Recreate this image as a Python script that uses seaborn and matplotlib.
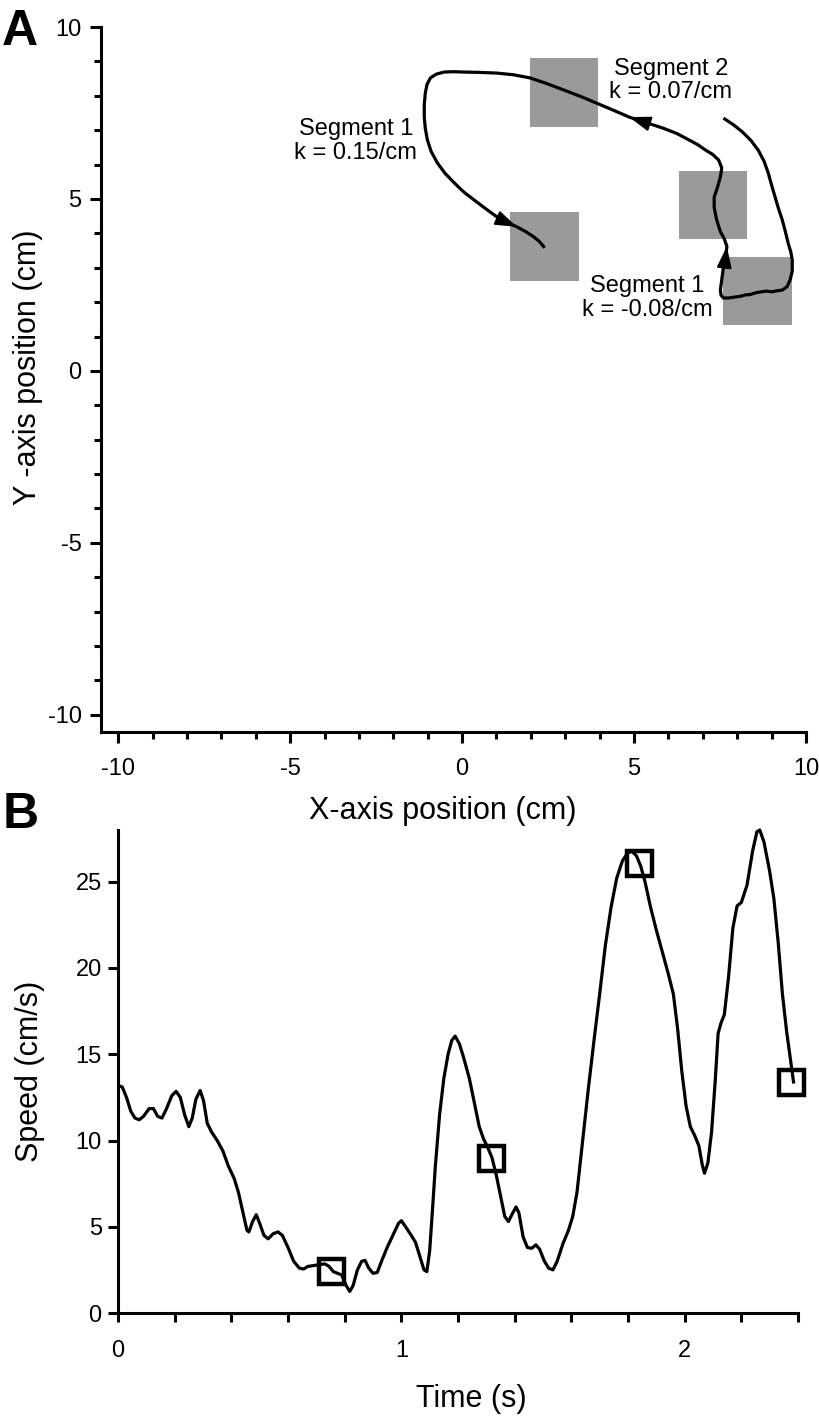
import numpy as np
import matplotlib
matplotlib.use("Agg")
import matplotlib.pyplot as plt
from matplotlib.patches import Rectangle
from matplotlib.ticker import MultipleLocator
import seaborn as sns

# Panel A: hand trajectory (cm)
PATH_X = [7.60, 7.90, 8.15, 8.40, 8.61, 8.78, 8.90, 9.00, 9.10, 9.20, 9.31, 9.40,
          9.48, 9.56, 9.60, 9.60, 9.54, 9.45, 9.31, 9.15, 9.02, 8.85, 8.70, 8.53,
          8.38, 8.24, 8.10, 7.95, 7.75, 7.60, 7.53, 7.51, 7.55, 7.60, 7.66, 7.70,
          7.62, 7.51, 7.40, 7.33, 7.33, 7.43, 7.51, 7.55, 7.46, 7.28, 7.08, 6.85,
          6.59, 6.25, 5.84, 5.35, 4.86, 4.40, 3.90, 3.45, 2.95, 2.45, 1.97, 1.50,
          1.01, 0.50, 0.06, -0.25, -0.52, -0.75, -0.92, -1.02, -1.07, -1.10, -1.10,
          -1.07, -1.01, -0.90, -0.72, -0.50, -0.23, 0.05, 0.35, 0.68, 1.01, 1.30,
          1.59, 1.85, 2.08, 2.25, 2.40]
PATH_Y = [7.35, 7.15, 6.95, 6.70, 6.42, 6.10, 5.76, 5.40, 5.06, 4.72, 4.39, 4.05,
          3.72, 3.45, 3.23, 2.90, 2.65, 2.45, 2.35, 2.33, 2.30, 2.32, 2.30, 2.27,
          2.22, 2.21, 2.17, 2.15, 2.12, 2.12, 2.20, 2.35, 2.65, 3.02, 3.30, 3.62,
          3.85, 4.05, 4.40, 4.75, 5.05, 5.35, 5.64, 5.90, 6.13, 6.30, 6.42, 6.58,
          6.72, 6.90, 7.06, 7.22, 7.38, 7.58, 7.79, 7.98, 8.17, 8.36, 8.52, 8.61,
          8.66, 8.68, 8.69, 8.70, 8.69, 8.63, 8.52, 8.33, 8.08, 7.75, 7.38,
          7.05, 6.72, 6.38, 6.05, 5.75, 5.47, 5.20, 4.97, 4.72, 4.48, 4.32,
          4.19, 4.05, 3.90, 3.76, 3.58]
ARROW_TIPS = [(7.70, 3.62), (4.86, 7.38), (1.59, 4.19)]

# target squares (centres, cm)
SQUARE_X = [2.965, 2.385, 7.295, 8.60]
SQUARE_Y = [8.095, 3.62, 4.825, 2.325]

LABEL_TEXT = ["Segment 2\nk = 0.07/cm", "Segment 1\nk = 0.15/cm", "Segment 1\nk = -0.08/cm"]
LABEL_X = [6.07, -3.09, 5.38]
LABEL_Y = [8.44, 6.69, 2.11]

# Panel B: speed profile
TIME = [0.000, 0.015, 0.030, 0.045, 0.060, 0.075, 0.090, 0.110, 0.125, 0.140,
        0.155, 0.170, 0.190, 0.205, 0.220, 0.235, 0.250, 0.262, 0.275, 0.290,
        0.302, 0.315, 0.330, 0.350, 0.370, 0.390, 0.410, 0.425, 0.440, 0.455,
        0.462, 0.475, 0.488, 0.500, 0.515, 0.530, 0.548, 0.565, 0.580, 0.600,
        0.620, 0.640, 0.655, 0.670, 0.690, 0.710, 0.730, 0.745, 0.760, 0.775,
        0.790, 0.805, 0.818, 0.830, 0.845, 0.860, 0.872, 0.885, 0.900, 0.915,
        0.930, 0.950, 0.970, 0.990, 1.000, 1.015, 1.035, 1.050, 1.065, 1.080,
        1.090, 1.100, 1.110, 1.120, 1.135, 1.150, 1.165, 1.178, 1.190, 1.205,
        1.220, 1.240, 1.260, 1.275, 1.290, 1.305, 1.320, 1.335, 1.350, 1.365,
        1.378, 1.390, 1.405, 1.415, 1.430, 1.445, 1.460, 1.475, 1.488, 1.505,
        1.520, 1.535, 1.550, 1.570, 1.590, 1.605, 1.620, 1.640, 1.660, 1.680,
        1.700, 1.720, 1.740, 1.760, 1.780, 1.800, 1.815, 1.830, 1.845, 1.860,
        1.880, 1.900, 1.920, 1.940, 1.960, 1.975, 1.990, 2.005, 2.020, 2.035,
        2.050, 2.062, 2.070, 2.082, 2.095, 2.108, 2.118, 2.128, 2.140, 2.155,
        2.170, 2.185, 2.200, 2.220, 2.240, 2.255, 2.265, 2.280, 2.300, 2.315,
        2.330, 2.345, 2.360, 2.375, 2.385]
SPEED = [13.2, 13.1, 12.5, 11.7, 11.3, 11.2, 11.4, 11.85, 11.85, 11.4,
         11.3, 11.8, 12.6, 12.85, 12.5, 11.5, 10.8, 11.3, 12.4, 12.9,
         12.3, 11.0, 10.5, 10.0, 9.4, 8.5, 7.8, 7.0, 5.9, 4.8,
         4.7, 5.3, 5.7, 5.2, 4.5, 4.3, 4.6, 4.7, 4.5, 3.8,
         3.0, 2.6, 2.55, 2.7, 2.75, 2.8, 2.85, 2.7, 2.4, 2.3,
         2.2, 1.6, 1.25, 1.6, 2.5, 3.0, 3.05, 2.6, 2.3, 2.35,
         3.0, 3.8, 4.5, 5.2, 5.35, 5.0, 4.5, 4.1, 3.3, 2.5,
         2.4, 3.6, 6.0, 8.5, 11.5, 13.6, 15.0, 15.8, 16.05, 15.6,
         14.8, 13.6, 12.0, 10.8, 10.1, 9.6, 9.0, 8.0, 6.8, 5.6,
         5.3, 5.7, 6.15, 5.8, 4.4, 3.8, 3.75, 3.95, 3.7, 3.0,
         2.6, 2.5, 3.0, 4.0, 4.8, 5.6, 7.0, 10.0, 13.0, 15.8,
         18.5, 21.3, 23.5, 25.2, 26.2, 26.7, 26.75, 26.5, 25.9, 25.0,
         23.5, 22.2, 21.0, 19.8, 18.5, 16.5, 14.0, 12.0, 10.8, 10.3,
         9.7, 8.6, 8.1, 8.7, 10.5, 13.5, 16.2, 16.8, 17.3, 19.5,
         22.3, 23.6, 23.8, 24.8, 26.8, 27.9, 28.0, 27.3, 25.6, 24.0,
         21.5, 18.5, 16.3, 14.5, 13.3]
MARK_T = [0.75, 1.315, 1.84, 2.375]
MARK_V = [2.45, 9.0, 26.1, 13.4]

sns.set_style("ticks")
plt.rcParams["font.family"] = ["Liberation Sans", "DejaVu Sans"]
plt.rcParams.update({
    "axes.linewidth": 2.2,
    "axes.edgecolor": "black",
    "axes.labelcolor": "black",
    "text.color": "black",
    "xtick.color": "black",
    "ytick.color": "black",
    "axes.unicode_minus": False,
    "lines.solid_joinstyle": "round",
    "lines.solid_capstyle": "butt",
})

W, H = 819, 1418
fig = plt.figure(figsize=(W / 100, H / 100), dpi=100)

# ---------- Panel A ----------
axA = fig.add_axes([101 / W, 1 - 732 / H, 705 / W, 705 / H])
for cx, cy in zip(SQUARE_X, SQUARE_Y):
    axA.add_patch(Rectangle((cx - 1.0, cy - 1.0), 2.0, 2.0, facecolor="#9a9a9a",
                            edgecolor="none", zorder=1))
sns.lineplot(x=PATH_X, y=PATH_Y, sort=False, estimator=None, color="black",
             linewidth=2.3, ax=axA, zorder=3)
pts = np.column_stack([PATH_X, PATH_Y])
for tip in ARROW_TIPS:
    i = int(np.argmin(np.hypot(pts[:, 0] - tip[0], pts[:, 1] - tip[1])))
    axA.annotate("", xy=pts[i], xytext=pts[i - 1], zorder=4,
                 arrowprops=dict(arrowstyle="-|>,head_length=1.3,head_width=0.45",
                                 color="black", lw=1.5, shrinkA=0, shrinkB=0))
for txt, tx, ty in zip(LABEL_TEXT, LABEL_X, LABEL_Y):
    axA.text(tx, ty, txt, ha="center", va="center", fontsize=17, linespacing=1.1)

axA.set_xlim(-10.5, 10)
axA.set_ylim(-10.5, 10)
axA.xaxis.set_minor_locator(MultipleLocator(1))
axA.yaxis.set_minor_locator(MultipleLocator(1))
axA.set_xticks([-10, -5, 0, 5, 10])
axA.set_yticks([-10, -5, 0, 5, 10])
axA.tick_params(axis="both", which="major", length=8, width=2.2, labelsize=17)
axA.tick_params(axis="both", which="minor", length=5, width=2.2)
axA.tick_params(axis="x", which="major", pad=11)
axA.tick_params(axis="y", which="major", pad=6)
sns.despine(ax=axA)
axA.set_xlabel("X-axis position (cm)", fontsize=22)
axA.set_ylabel("Y -axis position (cm)", fontsize=22)
axA.xaxis.set_label_coords(0.485, -0.091)
axA.yaxis.set_label_coords(-0.082, 0.517)

# ---------- Panel B ----------
axB = fig.add_axes([118 / W, 1 - 1313 / H, 680 / W, 483 / H])
sns.lineplot(x=TIME, y=SPEED, sort=False, estimator=None, color="black",
             linewidth=2.3, ax=axB, zorder=3, clip_on=False)
axB.plot(MARK_T, MARK_V, ls="none", marker="s", markersize=18,
         markerfacecolor="none", markeredgecolor="black", markeredgewidth=3.2,
         zorder=4, clip_on=False)
axB.set_xlim(0, 2.4)
axB.set_ylim(0, 28)
axB.set_xticks([0, 1, 2])
axB.xaxis.set_minor_locator(MultipleLocator(0.2))
axB.set_yticks([0, 5, 10, 15, 20, 25])
axB.tick_params(axis="both", which="both", width=2.2, labelsize=17)
axB.tick_params(axis="x", which="both", length=6.5, pad=13)
axB.tick_params(axis="y", which="major", length=7.2, pad=4.5)
sns.despine(ax=axB)
axB.set_xlabel("Time (s)", fontsize=22)
axB.set_ylabel("Speed (cm/s)", fontsize=22)
axB.xaxis.set_label_coords(0.519, -0.147)
axB.yaxis.set_label_coords(-0.107, 0.5)

fig.text(0.002, 1 - 45 / H, "A", fontsize=36, fontweight="bold", va="baseline", ha="left")
fig.text(0.003, 1 - 828 / H, "B", fontsize=36, fontweight="bold", va="baseline", ha="left")

fig.savefig("out.png", dpi=100)
